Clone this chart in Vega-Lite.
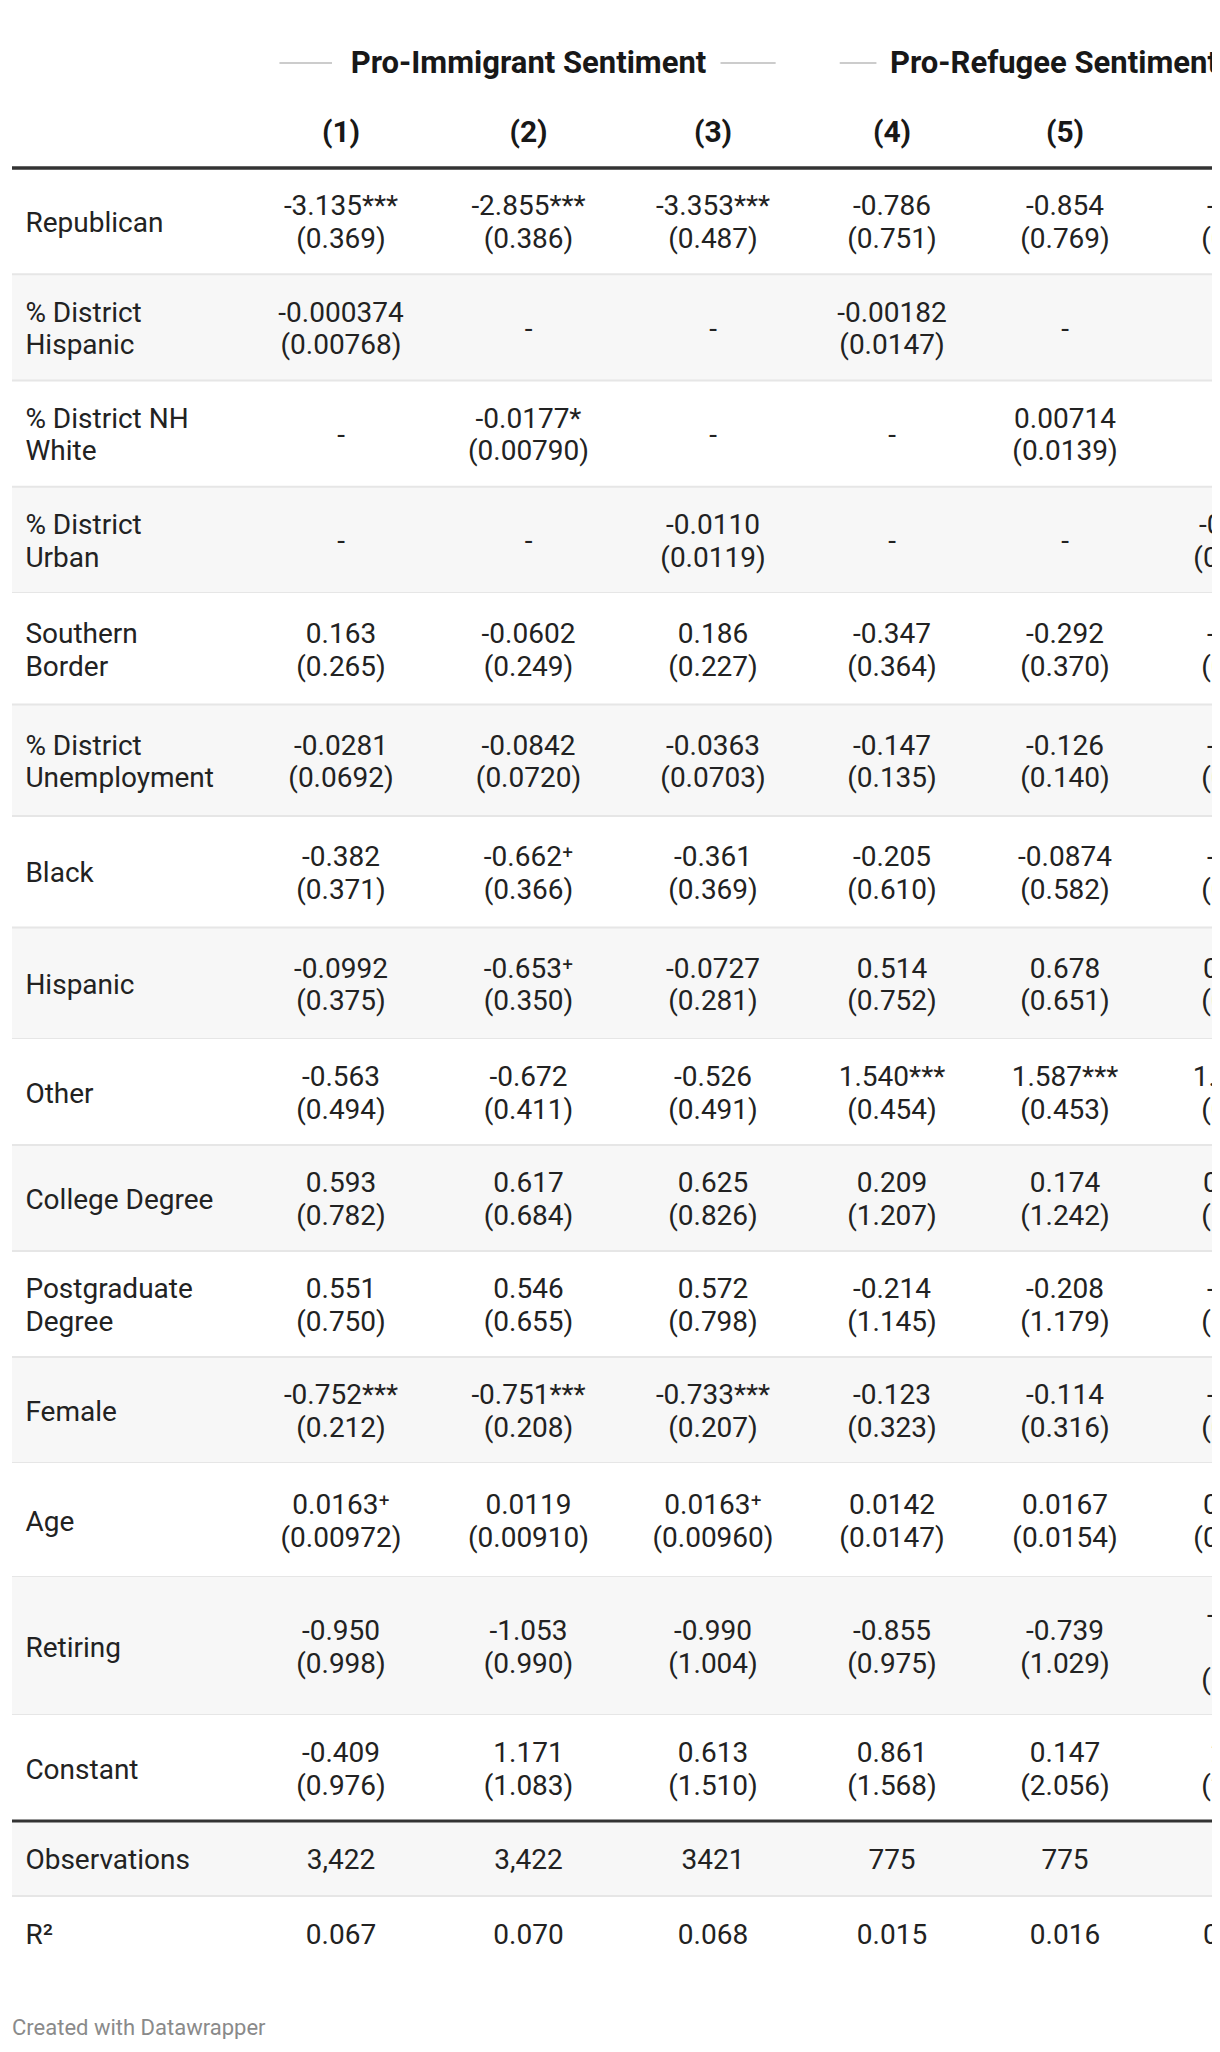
{
  "$schema": "https://vega.github.io/schema/vega-lite/v6.json",
  "padding": {"left": 10, "top": 0, "right": 0, "bottom": 0},
  "background": "white",
  "bounds": "flush",
  "spacing": 0,
  "config": {"view": {"stroke": null}, "font": "Roboto", "concat": {"spacing": 0}},
  "title": {"text": "Created with Datawrapper", "orient": "bottom", "anchor": "start", "frame": "group", "fontSize": 22, "fontWeight": "normal", "color": "#8a8a8a", "font": "Roboto", "offset": 47},
  "datasets": {
    "hdr": [
      {"col": 1, "num": "(1)"}, {"col": 2, "num": "(2)"}, {"col": 3, "num": "(3)"},
      {"col": 4, "num": "(4)"}, {"col": 5, "num": "(5)"}, {"col": 6, "num": "(6)"}
    ],
    "grp": [
      {"grp": "Pro-Immigrant Sentiment"}
    ],
    "grp2": [
      {"grp": "Pro-Refugee Sentiment"}
    ],
    "t": [
      {"idx": 0, "col": 1, "label": ["Republican"], "txt": ["-3.135***", "(0.369)"]},
      {"idx": 0, "col": 2, "txt": ["-2.855***", "(0.386)"]},
      {"idx": 0, "col": 3, "txt": ["-3.353***", "(0.487)"]},
      {"idx": 0, "col": 4, "txt": ["-0.786", "(0.751)"]},
      {"idx": 0, "col": 5, "txt": ["-0.854", "(0.769)"]},
      {"idx": 0, "col": 6, "txt": ["-0.812", "(0.766)"]},
      {"idx": 1, "col": 1, "label": ["% District", "Hispanic"], "txt": ["-0.000374", "(0.00768)"]},
      {"idx": 1, "col": 2, "txt": ["-"]},
      {"idx": 1, "col": 3, "txt": ["-"]},
      {"idx": 1, "col": 4, "txt": ["-0.00182", "(0.0147)"]},
      {"idx": 1, "col": 5, "txt": ["-"]},
      {"idx": 1, "col": 6, "txt": ["-"]},
      {"idx": 2, "col": 1, "label": ["% District NH", "White"], "txt": ["-"]},
      {"idx": 2, "col": 2, "txt": ["-0.0177*", "(0.00790)"]},
      {"idx": 2, "col": 3, "txt": ["-"]},
      {"idx": 2, "col": 4, "txt": ["-"]},
      {"idx": 2, "col": 5, "txt": ["0.00714", "(0.0139)"]},
      {"idx": 2, "col": 6, "txt": ["-"]},
      {"idx": 3, "col": 1, "label": ["% District", "Urban"], "txt": ["-"]},
      {"idx": 3, "col": 2, "txt": ["-"]},
      {"idx": 3, "col": 3, "txt": ["-0.0110", "(0.0119)"]},
      {"idx": 3, "col": 4, "txt": ["-"]},
      {"idx": 3, "col": 5, "txt": ["-"]},
      {"idx": 3, "col": 6, "txt": ["-0.0146", "(0.0212)"]},
      {"idx": 4, "col": 1, "label": ["Southern", "Border"], "txt": ["0.163", "(0.265)"]},
      {"idx": 4, "col": 2, "txt": ["-0.0602", "(0.249)"]},
      {"idx": 4, "col": 3, "txt": ["0.186", "(0.227)"]},
      {"idx": 4, "col": 4, "txt": ["-0.347", "(0.364)"]},
      {"idx": 4, "col": 5, "txt": ["-0.292", "(0.370)"]},
      {"idx": 4, "col": 6, "txt": ["-0.322", "(0.346)"]},
      {"idx": 5, "col": 1, "label": ["% District", "Unemployment"], "txt": ["-0.0281", "(0.0692)"]},
      {"idx": 5, "col": 2, "txt": ["-0.0842", "(0.0720)"]},
      {"idx": 5, "col": 3, "txt": ["-0.0363", "(0.0703)"]},
      {"idx": 5, "col": 4, "txt": ["-0.147", "(0.135)"]},
      {"idx": 5, "col": 5, "txt": ["-0.126", "(0.140)"]},
      {"idx": 5, "col": 6, "txt": ["-0.131", "(0.137)"]},
      {"idx": 6, "col": 1, "label": ["Black"], "txt": ["-0.382", "(0.371)"]},
      {"idx": 6, "col": 2, "txt": ["-0.662⁺", "(0.366)"]},
      {"idx": 6, "col": 3, "txt": ["-0.361", "(0.369)"]},
      {"idx": 6, "col": 4, "txt": ["-0.205", "(0.610)"]},
      {"idx": 6, "col": 5, "txt": ["-0.0874", "(0.582)"]},
      {"idx": 6, "col": 6, "txt": ["-0.161", "(0.603)"]},
      {"idx": 7, "col": 1, "label": ["Hispanic"], "txt": ["-0.0992", "(0.375)"]},
      {"idx": 7, "col": 2, "txt": ["-0.653⁺", "(0.350)"]},
      {"idx": 7, "col": 3, "txt": ["-0.0727", "(0.281)"]},
      {"idx": 7, "col": 4, "txt": ["0.514", "(0.752)"]},
      {"idx": 7, "col": 5, "txt": ["0.678", "(0.651)"]},
      {"idx": 7, "col": 6, "txt": ["0.6270", "(0.683)"]},
      {"idx": 8, "col": 1, "label": ["Other"], "txt": ["-0.563", "(0.494)"]},
      {"idx": 8, "col": 2, "txt": ["-0.672", "(0.411)"]},
      {"idx": 8, "col": 3, "txt": ["-0.526", "(0.491)"]},
      {"idx": 8, "col": 4, "txt": ["1.540***", "(0.454)"]},
      {"idx": 8, "col": 5, "txt": ["1.587***", "(0.453)"]},
      {"idx": 8, "col": 6, "txt": ["1.551***", "(0.455)"]},
      {"idx": 9, "col": 1, "label": ["College Degree"], "txt": ["0.593", "(0.782)"]},
      {"idx": 9, "col": 2, "txt": ["0.617", "(0.684)"]},
      {"idx": 9, "col": 3, "txt": ["0.625", "(0.826)"]},
      {"idx": 9, "col": 4, "txt": ["0.209", "(1.207)"]},
      {"idx": 9, "col": 5, "txt": ["0.174", "(1.242)"]},
      {"idx": 9, "col": 6, "txt": ["0.2150", "(1.218)"]},
      {"idx": 10, "col": 1, "label": ["Postgraduate", "Degree"], "txt": ["0.551", "(0.750)"]},
      {"idx": 10, "col": 2, "txt": ["0.546", "(0.655)"]},
      {"idx": 10, "col": 3, "txt": ["0.572", "(0.798)"]},
      {"idx": 10, "col": 4, "txt": ["-0.214", "(1.145)"]},
      {"idx": 10, "col": 5, "txt": ["-0.208", "(1.179)"]},
      {"idx": 10, "col": 6, "txt": ["-0.219", "(1.158)"]},
      {"idx": 11, "col": 1, "label": ["Female"], "txt": ["-0.752***", "(0.212)"]},
      {"idx": 11, "col": 2, "txt": ["-0.751***", "(0.208)"]},
      {"idx": 11, "col": 3, "txt": ["-0.733***", "(0.207)"]},
      {"idx": 11, "col": 4, "txt": ["-0.123", "(0.323)"]},
      {"idx": 11, "col": 5, "txt": ["-0.114", "(0.316)"]},
      {"idx": 11, "col": 6, "txt": ["-0.117", "(0.320)"]},
      {"idx": 12, "col": 1, "label": ["Age"], "txt": ["0.0163⁺", "(0.00972)"]},
      {"idx": 12, "col": 2, "txt": ["0.0119", "(0.00910)"]},
      {"idx": 12, "col": 3, "txt": ["0.0163⁺", "(0.00960)"]},
      {"idx": 12, "col": 4, "txt": ["0.0142", "(0.0147)"]},
      {"idx": 12, "col": 5, "txt": ["0.0167", "(0.0154)"]},
      {"idx": 12, "col": 6, "txt": ["0.0150", "(0.0150)"]},
      {"idx": 13, "col": 1, "label": ["Retiring"], "txt": ["-0.950", "(0.998)"]},
      {"idx": 13, "col": 2, "txt": ["-1.053", "(0.990)"]},
      {"idx": 13, "col": 3, "txt": ["-0.990", "(1.004)"]},
      {"idx": 13, "col": 4, "txt": ["-0.855", "(0.975)"]},
      {"idx": 13, "col": 5, "txt": ["-0.739", "(1.029)"]},
      {"idx": 13, "col": 6, "txt": ["-1.034", "(1.03", "(1.046)"]},
      {"idx": 14, "col": 1, "label": ["Constant"], "txt": ["-0.409", "(0.976)"]},
      {"idx": 14, "col": 2, "txt": ["1.171", "(1.083)"]},
      {"idx": 14, "col": 3, "txt": ["0.613", "(1.510)"]},
      {"idx": 14, "col": 4, "txt": ["0.861", "(1.568)"]},
      {"idx": 14, "col": 5, "txt": ["0.147", "(2.056)"]},
      {"idx": 14, "col": 6, "txt": ["2.115", "(2.212)"]},
      {"idx": 15, "col": 1, "label": ["Observations"], "txt": ["3,422"]},
      {"idx": 15, "col": 2, "txt": ["3,422"]},
      {"idx": 15, "col": 3, "txt": ["3421"]},
      {"idx": 15, "col": 4, "txt": ["775"]},
      {"idx": 15, "col": 5, "txt": ["775"]},
      {"idx": 15, "col": 6, "txt": ["775"]},
      {"idx": 16, "col": 1, "label": ["R²"], "txt": ["0.067"]},
      {"idx": 16, "col": 2, "txt": ["0.070"]},
      {"idx": 16, "col": 3, "txt": ["0.068"]},
      {"idx": 16, "col": 4, "txt": ["0.015"]},
      {"idx": 16, "col": 5, "txt": ["0.016"]},
      {"idx": 16, "col": 6, "txt": ["0.0180"]}
    ]
  },
  "vconcat": [
    {
      "width": 1200, "height": 168,
      "layer": [
        {"data": {"name": "grp"}, "mark": {"type": "text", "font": "Roboto", "fontWeight": "bold", "fontSize": 31, "color": "#181818", "dy": -20, "clip": true},
         "encoding": {"x": {"datum": 2, "type": "quantitative", "axis": null, "scale": {"domain": [0, 1, 2, 3, 4, 5, 6], "range": [13.4, 329, 516.5, 701, 880, 1053, 1234]}}, "text": {"field": "grp"}}},
        {"data": {"name": "grp2"}, "mark": {"type": "text", "font": "Roboto", "fontWeight": "bold", "fontSize": 31, "color": "#181818", "dy": -20, "clip": true},
         "encoding": {"x": {"datum": 4.936, "type": "quantitative", "axis": null}, "text": {"field": "grp"}}},
        {"data": {"name": "hdr"}, "mark": {"type": "text", "font": "Roboto", "fontWeight": "bold", "fontSize": 30, "color": "#181818", "dy": 49, "clip": true},
         "encoding": {"x": {"field": "col", "type": "quantitative", "axis": null}, "text": {"field": "num"}}},
        {"data": {"name": "grp"}, "mark": {"type": "rule", "color": "#cccccc", "strokeWidth": 2, "yOffset": -21},
         "encoding": {"x": {"datum": 0.805, "type": "quantitative", "axis": null}, "x2": {"datum": 0.9715}}},
        {"data": {"name": "grp"}, "mark": {"type": "rule", "color": "#cccccc", "strokeWidth": 2, "yOffset": -21},
         "encoding": {"x": {"datum": 3.042, "type": "quantitative", "axis": null}, "x2": {"datum": 3.35}}},
        {"data": {"name": "grp2"}, "mark": {"type": "rule", "color": "#cccccc", "strokeWidth": 2, "yOffset": -21},
         "encoding": {"x": {"datum": 3.708, "type": "quantitative", "axis": null}, "x2": {"datum": 3.913}}}
      ]
    },
    {
      "width": 1200, "height": 425,
      "data": {"name": "t"},
      "transform": [{"filter": "datum.idx >= 0 && datum.idx <= 3"}],
      "encoding": {"y": {"field": "idx", "type": "ordinal", "axis": null, "scale": {"paddingInner": 0, "paddingOuter": 0}}},
      "layer": [
        {"transform": [{"filter": "datum.col == 1"}], "mark": {"type": "rect"}, "encoding": {"fill": {"condition": {"test": "datum.idx % 2 == 1", "value": "#f7f7f7"}, "value": "#ffffff"}}},
        {"transform": [{"filter": "datum.col == 1"}], "mark": {"type": "rule", "color": "#e6e6e6", "strokeWidth": 2}, "encoding": {"y": {"field": "idx", "type": "ordinal", "axis": null, "bandPosition": 1}}},
        {"transform": [{"filter": "datum.col == 1 && datum.idx == 0"}], "mark": {"type": "rule", "color": "#333333", "strokeWidth": 3.5}, "encoding": {"y": {"field": "idx", "type": "ordinal", "axis": null, "bandPosition": 0}}},
        {"transform": [{"filter": "datum.col == 1 && length(datum.label) == 1"}], "mark": {"type": "text", "align": "left", "font": "Roboto", "fontSize": 28, "lineHeight": 32.5, "color": "#222222", "dy": 2.6}, "encoding": {"x": {"datum": 0, "type": "quantitative", "axis": null, "scale": {"domain": [0, 1, 2, 3, 4, 5, 6], "range": [13.4, 329, 516.5, 701, 880, 1053, 1234]}}, "text": {"field": "label"}}},
        {"transform": [{"filter": "datum.col == 1 && length(datum.label) == 2"}], "mark": {"type": "text", "align": "left", "font": "Roboto", "fontSize": 28, "lineHeight": 32.5, "color": "#222222", "dy": -13.65}, "encoding": {"x": {"datum": 0, "type": "quantitative", "axis": null}, "text": {"field": "label"}}},
        {"transform": [{"filter": "length(datum.txt) == 1"}], "mark": {"type": "text", "align": "center", "font": "Roboto", "fontSize": 28, "lineHeight": 32.5, "color": "#222222", "clip": true, "dy": 2.6}, "encoding": {"x": {"field": "col", "type": "quantitative", "axis": null}, "text": {"field": "txt"}}},
        {"transform": [{"filter": "length(datum.txt) == 2"}], "mark": {"type": "text", "align": "center", "font": "Roboto", "fontSize": 28, "lineHeight": 32.5, "color": "#222222", "clip": true, "dy": -13.65}, "encoding": {"x": {"field": "col", "type": "quantitative", "axis": null}, "text": {"field": "txt"}}}
      ]
    },
    {
      "width": 1200, "height": 446,
      "data": {"name": "t"},
      "transform": [{"filter": "datum.idx >= 4 && datum.idx <= 7"}],
      "encoding": {"y": {"field": "idx", "type": "ordinal", "axis": null, "scale": {"paddingInner": 0, "paddingOuter": 0}}},
      "layer": [
        {"transform": [{"filter": "datum.col == 1"}], "mark": {"type": "rect"}, "encoding": {"fill": {"condition": {"test": "datum.idx % 2 == 1", "value": "#f7f7f7"}, "value": "#ffffff"}}},
        {"transform": [{"filter": "datum.col == 1"}], "mark": {"type": "rule", "color": "#e6e6e6", "strokeWidth": 2}, "encoding": {"y": {"field": "idx", "type": "ordinal", "axis": null, "bandPosition": 1}}},
        {"transform": [{"filter": "datum.col == 1 && length(datum.label) == 1"}], "mark": {"type": "text", "align": "left", "font": "Roboto", "fontSize": 28, "lineHeight": 32.5, "color": "#222222", "dy": 2.6}, "encoding": {"x": {"datum": 0, "type": "quantitative", "axis": null, "scale": {"domain": [0, 1, 2, 3, 4, 5, 6], "range": [13.4, 329, 516.5, 701, 880, 1053, 1234]}}, "text": {"field": "label"}}},
        {"transform": [{"filter": "datum.col == 1 && length(datum.label) == 2"}], "mark": {"type": "text", "align": "left", "font": "Roboto", "fontSize": 28, "lineHeight": 32.5, "color": "#222222", "dy": -13.65}, "encoding": {"x": {"datum": 0, "type": "quantitative", "axis": null}, "text": {"field": "label"}}},
        {"transform": [{"filter": "length(datum.txt) == 2"}], "mark": {"type": "text", "align": "center", "font": "Roboto", "fontSize": 28, "lineHeight": 32.5, "color": "#222222", "clip": true, "dy": -13.65}, "encoding": {"x": {"field": "col", "type": "quantitative", "axis": null}, "text": {"field": "txt"}}}
      ]
    },
    {
      "width": 1200, "height": 424,
      "data": {"name": "t"},
      "transform": [{"filter": "datum.idx >= 8 && datum.idx <= 11"}],
      "encoding": {"y": {"field": "idx", "type": "ordinal", "axis": null, "scale": {"paddingInner": 0, "paddingOuter": 0}}},
      "layer": [
        {"transform": [{"filter": "datum.col == 1"}], "mark": {"type": "rect"}, "encoding": {"fill": {"condition": {"test": "datum.idx % 2 == 1", "value": "#f7f7f7"}, "value": "#ffffff"}}},
        {"transform": [{"filter": "datum.col == 1"}], "mark": {"type": "rule", "color": "#e6e6e6", "strokeWidth": 2}, "encoding": {"y": {"field": "idx", "type": "ordinal", "axis": null, "bandPosition": 1}}},
        {"transform": [{"filter": "datum.col == 1 && length(datum.label) == 1"}], "mark": {"type": "text", "align": "left", "font": "Roboto", "fontSize": 28, "lineHeight": 32.5, "color": "#222222", "dy": 2.6}, "encoding": {"x": {"datum": 0, "type": "quantitative", "axis": null, "scale": {"domain": [0, 1, 2, 3, 4, 5, 6], "range": [13.4, 329, 516.5, 701, 880, 1053, 1234]}}, "text": {"field": "label"}}},
        {"transform": [{"filter": "datum.col == 1 && length(datum.label) == 2"}], "mark": {"type": "text", "align": "left", "font": "Roboto", "fontSize": 28, "lineHeight": 32.5, "color": "#222222", "dy": -13.65}, "encoding": {"x": {"datum": 0, "type": "quantitative", "axis": null}, "text": {"field": "label"}}},
        {"transform": [{"filter": "length(datum.txt) == 2"}], "mark": {"type": "text", "align": "center", "font": "Roboto", "fontSize": 28, "lineHeight": 32.5, "color": "#222222", "clip": true, "dy": -13.65}, "encoding": {"x": {"field": "col", "type": "quantitative", "axis": null}, "text": {"field": "txt"}}}
      ]
    },
    {
      "width": 1200, "height": 114,
      "data": {"name": "t"},
      "transform": [{"filter": "datum.idx == 12"}],
      "encoding": {"y": {"field": "idx", "type": "ordinal", "axis": null, "scale": {"paddingInner": 0, "paddingOuter": 0}}},
      "layer": [
        {"transform": [{"filter": "datum.col == 1"}], "mark": {"type": "rect"}, "encoding": {"fill": {"condition": {"test": "datum.idx % 2 == 1", "value": "#f7f7f7"}, "value": "#ffffff"}}},
        {"transform": [{"filter": "datum.col == 1"}], "mark": {"type": "rule", "color": "#e6e6e6", "strokeWidth": 2}, "encoding": {"y": {"field": "idx", "type": "ordinal", "axis": null, "bandPosition": 1}}},
        {"transform": [{"filter": "datum.col == 1"}], "mark": {"type": "text", "align": "left", "font": "Roboto", "fontSize": 28, "lineHeight": 32.5, "color": "#222222", "dy": 2.6}, "encoding": {"x": {"datum": 0, "type": "quantitative", "axis": null, "scale": {"domain": [0, 1, 2, 3, 4, 5, 6], "range": [13.4, 329, 516.5, 701, 880, 1053, 1234]}}, "text": {"field": "label"}}},
        {"mark": {"type": "text", "align": "center", "font": "Roboto", "fontSize": 28, "lineHeight": 32.5, "color": "#222222", "clip": true, "dy": -13.65}, "encoding": {"x": {"field": "col", "type": "quantitative", "axis": null}, "text": {"field": "txt"}}}
      ]
    },
    {
      "width": 1200, "height": 138,
      "data": {"name": "t"},
      "transform": [{"filter": "datum.idx == 13"}],
      "encoding": {"y": {"field": "idx", "type": "ordinal", "axis": null, "scale": {"paddingInner": 0, "paddingOuter": 0}}},
      "layer": [
        {"transform": [{"filter": "datum.col == 1"}], "mark": {"type": "rect"}, "encoding": {"fill": {"condition": {"test": "datum.idx % 2 == 1", "value": "#f7f7f7"}, "value": "#ffffff"}}},
        {"transform": [{"filter": "datum.col == 1"}], "mark": {"type": "rule", "color": "#e6e6e6", "strokeWidth": 2}, "encoding": {"y": {"field": "idx", "type": "ordinal", "axis": null, "bandPosition": 1}}},
        {"transform": [{"filter": "datum.col == 1"}], "mark": {"type": "text", "align": "left", "font": "Roboto", "fontSize": 28, "lineHeight": 32.5, "color": "#222222", "dy": 2.6}, "encoding": {"x": {"datum": 0, "type": "quantitative", "axis": null, "scale": {"domain": [0, 1, 2, 3, 4, 5, 6], "range": [13.4, 329, 516.5, 701, 880, 1053, 1234]}}, "text": {"field": "label"}}},
        {"transform": [{"filter": "length(datum.txt) == 2"}], "mark": {"type": "text", "align": "center", "font": "Roboto", "fontSize": 28, "lineHeight": 32.5, "color": "#222222", "clip": true, "dy": -13.65}, "encoding": {"x": {"field": "col", "type": "quantitative", "axis": null}, "text": {"field": "txt"}}},
        {"transform": [{"filter": "length(datum.txt) == 3"}], "mark": {"type": "text", "align": "center", "font": "Roboto", "fontSize": 28, "lineHeight": 32.5, "color": "#222222", "clip": true, "dy": -29.9}, "encoding": {"x": {"field": "col", "type": "quantitative", "axis": null}, "text": {"field": "txt"}}}
      ]
    },
    {
      "width": 1200, "height": 106,
      "data": {"name": "t"},
      "transform": [{"filter": "datum.idx == 14"}],
      "encoding": {"y": {"field": "idx", "type": "ordinal", "axis": null, "scale": {"paddingInner": 0, "paddingOuter": 0}}},
      "layer": [
        {"transform": [{"filter": "datum.col == 1"}], "mark": {"type": "rect"}, "encoding": {"fill": {"condition": {"test": "datum.idx % 2 == 1", "value": "#f7f7f7"}, "value": "#ffffff"}}},
        {"transform": [{"filter": "datum.col == 1"}], "mark": {"type": "text", "align": "left", "font": "Roboto", "fontSize": 28, "lineHeight": 32.5, "color": "#222222", "dy": 2.6}, "encoding": {"x": {"datum": 0, "type": "quantitative", "axis": null, "scale": {"domain": [0, 1, 2, 3, 4, 5, 6], "range": [13.4, 329, 516.5, 701, 880, 1053, 1234]}}, "text": {"field": "label"}}},
        {"mark": {"type": "text", "align": "center", "font": "Roboto", "fontSize": 28, "lineHeight": 32.5, "color": "#222222", "clip": true, "dy": -13.65}, "encoding": {"x": {"field": "col", "type": "quantitative", "axis": null}, "text": {"field": "txt"}}}
      ]
    },
    {
      "width": 1200, "height": 150,
      "data": {"name": "t"},
      "transform": [{"filter": "datum.idx >= 15"}],
      "encoding": {"y": {"field": "idx", "type": "ordinal", "axis": null, "scale": {"paddingInner": 0, "paddingOuter": 0}}},
      "layer": [
        {"transform": [{"filter": "datum.col == 1"}], "mark": {"type": "rect"}, "encoding": {"fill": {"condition": {"test": "datum.idx % 2 == 1", "value": "#f7f7f7"}, "value": "#ffffff"}}},
        {"transform": [{"filter": "datum.col == 1 && datum.idx == 15"}], "mark": {"type": "rule", "color": "#e6e6e6", "strokeWidth": 2}, "encoding": {"y": {"field": "idx", "type": "ordinal", "axis": null, "bandPosition": 1}}},
        {"transform": [{"filter": "datum.col == 1 && datum.idx == 15"}], "mark": {"type": "rule", "color": "#333333", "strokeWidth": 3}, "encoding": {"y": {"field": "idx", "type": "ordinal", "axis": null, "bandPosition": 0}}},
        {"transform": [{"filter": "datum.col == 1"}], "mark": {"type": "text", "align": "left", "font": "Roboto", "fontSize": 28, "lineHeight": 32.5, "color": "#222222", "dy": 2.6}, "encoding": {"x": {"datum": 0, "type": "quantitative", "axis": null, "scale": {"domain": [0, 1, 2, 3, 4, 5, 6], "range": [13.4, 329, 516.5, 701, 880, 1053, 1234]}}, "text": {"field": "label"}}},
        {"mark": {"type": "text", "align": "center", "font": "Roboto", "fontSize": 28, "lineHeight": 32.5, "color": "#222222", "clip": true, "dy": 2.6}, "encoding": {"x": {"field": "col", "type": "quantitative", "axis": null}, "text": {"field": "txt"}}}
      ]
    }
  ]
}
